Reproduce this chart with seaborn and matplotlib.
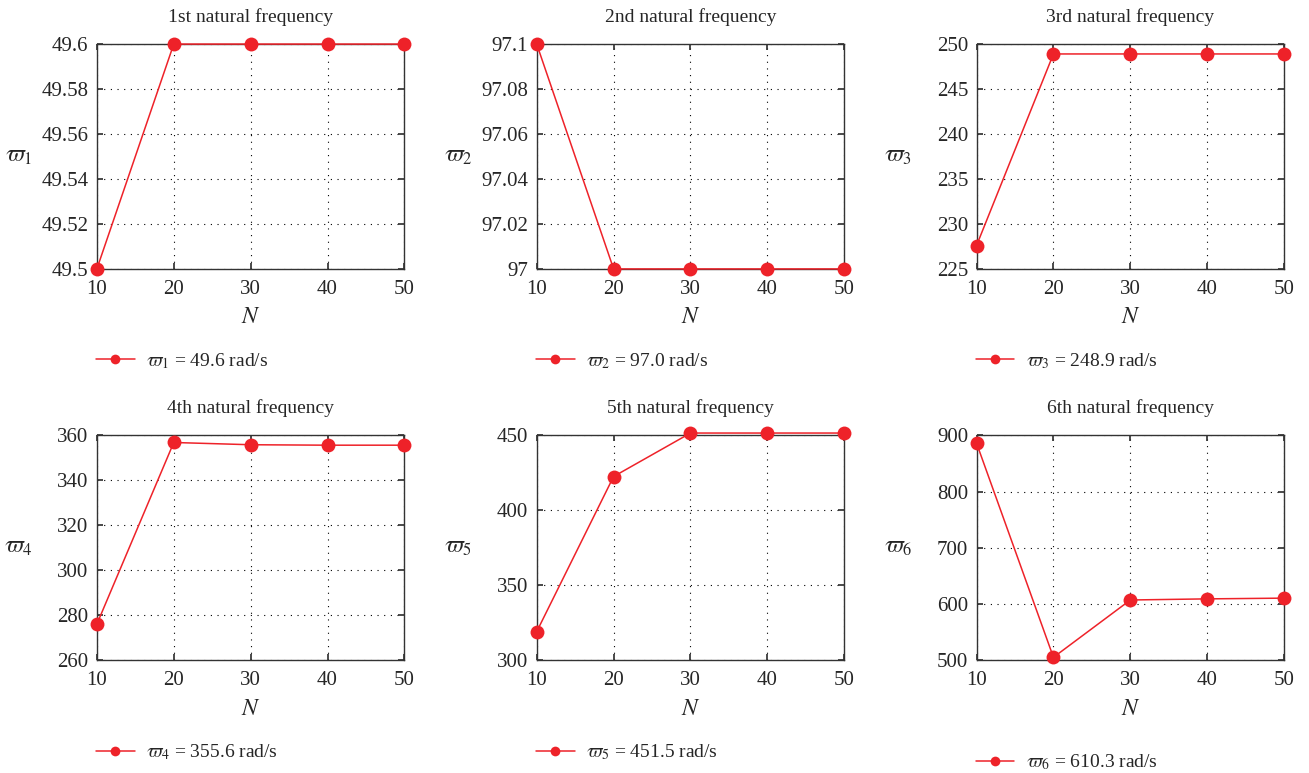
import numpy as np
import pandas as pd
import seaborn as sns
from matplotlib import pyplot as plt
from matplotlib.ticker import MultipleLocator, FormatStrFormatter

N = [10, 20, 30, 40, 50]
w1 = [49.5, 49.6, 49.6, 49.6, 49.6]
w2 = [97.1, 97.0, 97.0, 97.0, 97.0]
w3 = [227.6, 248.9, 248.9, 248.9, 248.9]
w4 = [276.0, 356.8, 355.8, 355.6, 355.6]
w5 = [319.0, 422.5, 451.5, 451.5, 451.5]
w6 = [886.0, 505.0, 607.0, 609.0, 610.3]

titles = ["1st natural frequency", "2nd natural frequency", "3rd natural frequency",
          "4th natural frequency", "5th natural frequency", "6th natural frequency"]
legend_vals = ["49.6", "97.0", "248.9", "355.6", "451.5", "610.3"]
ylims = [(49.5, 49.6), (97.0, 97.1), (225, 250), (260, 360), (300, 450), (500, 900)]
ysteps = [0.02, 0.02, 5, 20, 50, 100]

if __name__ == "__main__":
    sns.set_theme(style="ticks")
    plt.rcParams["font.family"] = ["Liberation Serif", "DejaVu Serif"]
    plt.rcParams["mathtext.fontset"] = "stix"
    red = "#ee2229"

    fig, axes = plt.subplots(2, 3, figsize=(13.09, 7.73), dpi=100)
    plt.subplots_adjust(left=0.074, right=0.981, top=0.943, bottom=0.146,
                        wspace=0.43, hspace=0.74)
    series = [w1, w2, w3, w4, w5, w6]
    for i, ax in enumerate(axes.flat):
        df = pd.DataFrame({"N": N, "w": series[i]})
        lab = rf"$\varpi_{i + 1}$ = {legend_vals[i]} rad/s"
        sns.lineplot(df, x="N", y="w", ax=ax, color=red, marker="o",
                     markersize=10, markeredgewidth=0, linewidth=1.1,
                     label=lab, clip_on=False, zorder=5)
        ax.set_xlim(10, 50)
        ax.set_ylim(*ylims[i])
        ax.xaxis.set_major_locator(MultipleLocator(10))
        ax.yaxis.set_major_locator(MultipleLocator(ysteps[i]))
        if i < 2:
            ax.yaxis.set_major_formatter(FormatStrFormatter("%g"))
            ax.set_yticks(np.round(np.arange(ylims[i][0], ylims[i][1] + 1e-9, 0.02), 2))
        ax.grid(True, color="black", linestyle=(0, (1, 5)), linewidth=0.8)
        ax.tick_params(direction="in", top=True, right=True, labelsize=15,
                       length=4, color="#333333")
        ax.tick_params(axis="x", pad=8)
        ax.tick_params(axis="y", pad=6)
        for s in ax.spines.values():
            s.set_color("#333333")
            s.set_linewidth(1.0)
        ax.set_title(titles[i], fontsize=14, pad=16)
        ax.set_xlabel("$N$", fontsize=17, labelpad=6)
        ax.set_ylabel(rf"$\varpi_{i + 1}$", fontsize=17, rotation=0, va="center")
        ax.yaxis.set_label_coords(-0.255, 0.5)
        yoff = -0.455 if i == 5 else -0.41
        ax.legend(loc="center left", bbox_to_anchor=(-0.06, yoff), frameon=False,
                  fontsize=14, handlelength=2.0, handletextpad=0.6, markerscale=0.7)

    plt.savefig("out.png", dpi=100)
    plt.close()
